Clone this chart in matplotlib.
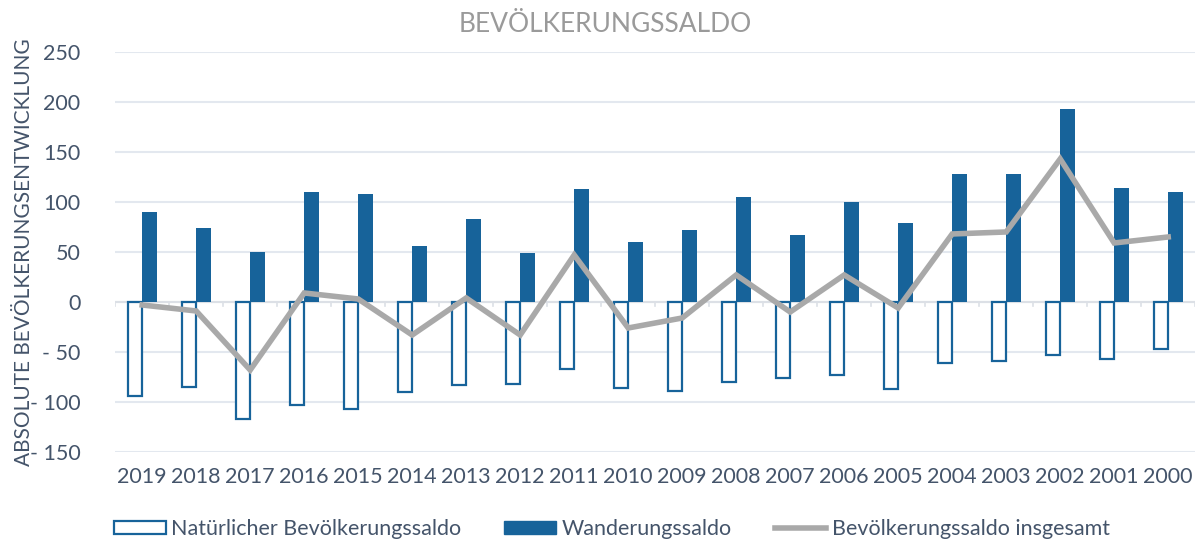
import matplotlib
matplotlib.use("Agg")
import matplotlib.pyplot as plt
import numpy as np
from matplotlib.lines import Line2D
from matplotlib.patches import Patch

# data
years = ["2019","2018","2017","2016","2015","2014","2013","2012","2011","2010",
         "2009","2008","2007","2006","2005","2004","2003","2002","2001","2000"]
natuerlich = [-94,-85,-117,-103,-107,-90,-83,-82,-67,-86,
              -89,-80,-76,-73,-87,-61,-59,-53,-57,-47]
wanderung = [90,74,50,110,108,56,83,49,113,60,
             72,105,67,100,79,128,128,193,114,110]
insgesamt = [-3,-9,-68,9,3,-33,4,-33,47,-26,
             -16,27,-10,27,-6,68,70,143,59,65]
yticks = [-150,-100,-50,0,50,100,150,200,250]
ytick_labels = ["- 150","- 100","- 50","0","50","100","150","200","250"]

blue = "#17639A"
grey_line = "#A9A9A9"
text_col = "#44546A"

plt.rcParams['font.family'] = ['Lato', 'DejaVu Sans']

fig = plt.figure(figsize=(12,5.41), dpi=100)
ax = fig.add_axes([0.096, 0.1645, 0.9, 0.7395])

x = np.arange(len(years))
w = 0.27
ax.bar(x - w/2, natuerlich, width=w, facecolor="white", edgecolor=blue, linewidth=1.6, zorder=2)
ax.bar(x + w/2, wanderung, width=w, color=blue, zorder=2)
ax.plot(x, insgesamt, color=grey_line, linewidth=4, solid_joinstyle="miter", zorder=3)

ax.set_xlim(-0.5, len(years) - 0.5)
ax.set_ylim(-150, 250)
ax.set_yticks(yticks)
ax.set_yticklabels(ytick_labels)
ax.yaxis.grid(True, color="#E3E8EF", linewidth=1.5, zorder=0)
ax.set_axisbelow(True)
ax.axhline(0, color="#DCE0E6", linewidth=1.5, zorder=1)
# small tick marks between categories on the zero line
for b in np.arange(-0.5, len(years), 1):
    ax.plot([b, b], [0, -4], color="#DCE0E6", linewidth=1.2, zorder=1)

ax.set_xticks(x)
ax.set_xticklabels(years)
for s in ax.spines.values():
    s.set_visible(False)
ax.tick_params(axis="both", length=0, labelsize=15.5, colors=text_col)
ax.tick_params(axis="x", pad=11)
ax.tick_params(axis="y", pad=25)
for lbl in ax.get_yticklabels():
    lbl.set_horizontalalignment("right")

ax.set_ylabel("ABSOLUTE BEVÖLKERUNGSENTWICKLUNG", fontsize=15, color=text_col, labelpad=4)
ax.yaxis.set_label_coords(-0.075, 0.5)
fig.text(0.504, 0.955, "BEVÖLKERUNGSSALDO", ha="center", va="center", fontsize=19, color="#9A9A9A")

handles = [
    Patch(facecolor="white", edgecolor=blue, linewidth=1.6, label="Natürlicher Bevölkerungssaldo"),
    Patch(facecolor=blue, edgecolor=blue, label="Wanderungssaldo"),
    Line2D([0],[0], color=grey_line, linewidth=4, label="Bevölkerungssaldo insgesamt"),
]
fig.legend(handles=handles, loc="center", bbox_to_anchor=(0.51, 0.022), ncol=3, frameon=False,
           fontsize=15.5, labelcolor=text_col, handlelength=2.4, handleheight=0.6,
           handletextpad=0.25, columnspacing=2.0)

fig.savefig("out.png", dpi=100)
